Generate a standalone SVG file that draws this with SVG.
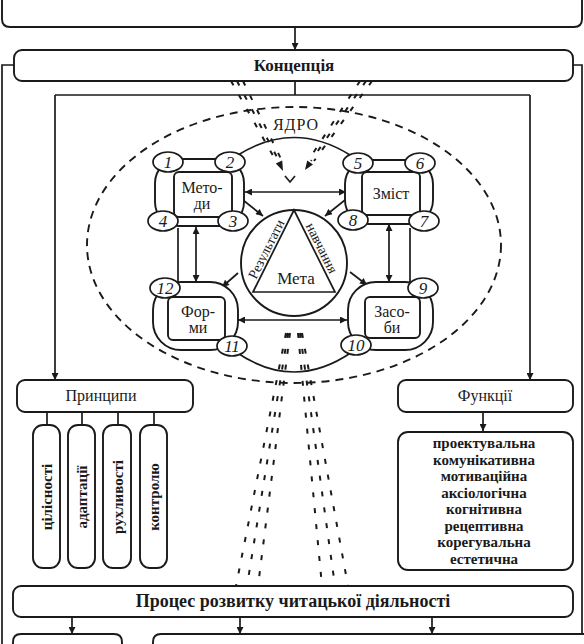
<svg xmlns="http://www.w3.org/2000/svg" width="584" height="644" viewBox="0 0 584 644">
<defs>
<marker id="ah" viewBox="0 0 10 10" refX="10" refY="5" markerWidth="8" markerHeight="7" markerUnits="userSpaceOnUse" orient="auto-start-reverse">
<path d="M0,0 L10,5 L0,10 z" fill="#1a1a1a"/>
</marker>
</defs>
<style>
.ln{fill:none;stroke:#1a1a1a;stroke-width:1.7}
.box{fill:#fff;stroke:#1a1a1a;stroke-width:1.9}
.t{font-family:"Liberation Serif",serif;fill:#1a1a1a;text-anchor:middle}
.b{font-weight:bold}
.num{font-family:"Liberation Serif",serif;font-style:italic;font-size:17px;text-anchor:middle;fill:#1a1a1a}
.el{fill:#fff;stroke:#1a1a1a;stroke-width:1.7}
.dash{fill:none;stroke:#1a1a1a;stroke-width:1.9;stroke-dasharray:8 6}
.bd{fill:none;stroke:#1a1a1a;stroke-width:2;stroke-dasharray:5 11}
.ahd{fill:#1a1a1a}
</style>
<rect width="584" height="644" fill="#fff"/>

<g id="top-box">
<path class="box" d="M2,-2 L2,19 Q2,27 10,27 L574,27 Q582,27 582,19 L582,-2"/>
</g>

<g id="dashed-zone">
<ellipse class="dash" cx="294" cy="245" rx="207" ry="138"/>
</g>

<g id="connectors">
<path class="ln" d="M295,27 L295,50" marker-end="url(#ah)"/>
<path class="ln" d="M295,81 L295,95 M55,95 L530,95"/>
<path class="ln" d="M55,95 L55,380" marker-end="url(#ah)"/>
<path class="ln" d="M530,95 L530,380" marker-end="url(#ah)"/>
<path class="ln" d="M14,65 L2,65 L2,644 M573,65 L582,65 L582,644"/>
<path class="ln" d="M47,412 L47,425 M82,412 L82,425 M118,412 L118,425 M154,412 L154,425"/>
<path class="ln" d="M483,412 L483,431" marker-end="url(#ah)"/>
<path class="ln" d="M72,617 L72,634" marker-end="url(#ah)"/>
<path class="ln" d="M240,617 L240,634" marker-end="url(#ah)"/>
<path class="ln" d="M432,617 L432,634" marker-end="url(#ah)"/>
<path class="ln" d="M238,155 Q294,120 350,155"/>
<path class="ln" d="M178,228 L178,282"/>
<path class="ln" d="M410,228 L410,282"/>
<path class="ln" d="M236,352 Q294,392 352,352"/>
<path class="ln" d="M245,192 L346,192" marker-start="url(#ah)" marker-end="url(#ah)"/>
<path class="ln" d="M238,320 L347,320" marker-start="url(#ah)" marker-end="url(#ah)"/>
<path class="ln" d="M196,227 L196,282" marker-start="url(#ah)" marker-end="url(#ah)"/>
<path class="ln" d="M389,224 L389,282" marker-start="url(#ah)" marker-end="url(#ah)"/>
<path class="ln" d="M243,200 L263,216" marker-end="url(#ah)"/>
<path class="ln" d="M345,200 L325,216" marker-end="url(#ah)"/>
<path class="ln" d="M238,273 L222,287" marker-end="url(#ah)"/>
<path class="ln" d="M350,272 L367,285" marker-end="url(#ah)"/>
<path class="bd" d="M231,81 L276,161 M237,81 L279,161 M243,81 L282,161"/>
<polygon class="ahd" points="283,171 282.2,160.4 275.8,163.6"/>
<path class="bd" d="M360,81 L308,161 M366,81 L311,161 M372,81 L314,161"/>
<polygon class="ahd" points="305,170 313,164.6 307.2,160.6"/>
<path class="ln" d="M285,176 L290,182 L295,176"/>
<path class="bd" d="M286,333 L236,586 M288,333 L247,586 M290,333 L258,586"/>
<path class="bd" d="M298,333 L322,586 M300,333 L335,586 M302,333 L348,586"/>
</g>

<g id="koncepcia">
<rect class="box" x="14" y="50" width="559" height="31" rx="8"/>
<text class="t b" x="294" y="71" font-size="17">Концепція</text>
</g>

<g id="metodu">
<rect class="box" x="155" y="159" width="89" height="67" rx="24"/>
<rect class="box" x="174" y="172" width="58" height="45" rx="5"/>
<text class="t" x="202" y="193" font-size="16">Мето-</text>
<text class="t" x="202" y="209" font-size="16">ди</text>
<ellipse class="el" cx="168" cy="162" rx="15" ry="10"/><text class="num" x="168" y="168">1</text>
<ellipse class="el" cx="230" cy="162" rx="15" ry="10"/><text class="num" x="230" y="168">2</text>
<ellipse class="el" cx="233" cy="221" rx="15" ry="10"/><text class="num" x="233" y="227">3</text>
<ellipse class="el" cx="163" cy="221" rx="15" ry="10"/><text class="num" x="163" y="227">4</text>
</g>

<g id="zmist">
<rect class="box" x="345" y="160" width="88" height="64" rx="24"/>
<rect class="box" x="362" y="172" width="58" height="43" rx="5"/>
<text class="t" x="391" y="199" font-size="16">Зміст</text>
<ellipse class="el" cx="358" cy="163" rx="15" ry="10"/><text class="num" x="358" y="169">5</text>
<ellipse class="el" cx="420" cy="163" rx="15" ry="10"/><text class="num" x="420" y="169">6</text>
<ellipse class="el" cx="424" cy="221" rx="15" ry="10"/><text class="num" x="424" y="227">7</text>
<ellipse class="el" cx="353" cy="220" rx="15" ry="10"/><text class="num" x="353" y="226">8</text>
</g>

<g id="formu">
<rect class="box" x="153" y="282" width="85" height="68" rx="28"/>
<rect class="box" x="168" y="297" width="57" height="43" rx="5"/>
<text class="t" x="198" y="317" font-size="16">Фор-</text>
<text class="t" x="198" y="333" font-size="16">ми</text>
<ellipse class="el" cx="165" cy="288" rx="15" ry="10"/><text class="num" x="165" y="294">12</text>
<ellipse class="el" cx="232" cy="346" rx="15" ry="10"/><text class="num" x="232" y="352">11</text>
</g>

<g id="zasobu">
<rect class="box" x="348" y="282" width="85" height="68" rx="28"/>
<rect class="box" x="365" y="297" width="55" height="41" rx="5"/>
<text class="t" x="392" y="317" font-size="16">Засо-</text>
<text class="t" x="392" y="333" font-size="16">би</text>
<ellipse class="el" cx="423" cy="288" rx="15" ry="10"/><text class="num" x="423" y="294">9</text>
<ellipse class="el" cx="356" cy="345" rx="15" ry="10"/><text class="num" x="356" y="351">10</text>
</g>

<g id="yadro">
<text class="t" x="296" y="130" font-size="16" letter-spacing="1">ЯДРО</text>
</g>

<g id="meta">
<circle cx="294" cy="263" r="53" fill="#fff" stroke="#1a1a1a" stroke-width="1.9"/>
<polygon points="294,210 253,292 335,292" fill="none" stroke="#1a1a1a" stroke-width="1.7"/>
<text class="t" x="296" y="284" font-size="17">Мета</text>
<text class="t" font-size="14" transform="translate(266,249) rotate(-63.4)" dy="0.35em">Результати</text>
<text class="t" font-size="14" transform="translate(322,248) rotate(63.4)" dy="0.35em">навчання</text>
</g>

<g id="pryncypy">
<rect class="box" x="17" y="380" width="176" height="32" rx="8"/>
<text class="t" x="101" y="401" font-size="16">Принципи</text>
</g>
<g id="p1"><rect class="box" x="33" y="425" width="27" height="143" rx="10"/><text class="t b" font-size="15" transform="translate(47,497) rotate(-90)" dy="0.35em">цілісності</text></g>
<g id="p2"><rect class="box" x="68" y="425" width="27" height="143" rx="10"/><text class="t b" font-size="15" transform="translate(82,497) rotate(-90)" dy="0.35em">адаптації</text></g>
<g id="p3"><rect class="box" x="103" y="425" width="28" height="143" rx="10"/><text class="t b" font-size="15" transform="translate(118,497) rotate(-90)" dy="0.35em">рухливості</text></g>
<g id="p4"><rect class="box" x="140" y="425" width="27" height="143" rx="10"/><text class="t b" font-size="15" transform="translate(154,497) rotate(-90)" dy="0.35em">контролю</text></g>

<g id="funkcii">
<rect class="box" x="398" y="380" width="175" height="32" rx="8"/>
<text class="t" x="485" y="401" font-size="16">Функції</text>
</g>
<g id="funkcii-list">
<rect class="box" x="398" y="432" width="175" height="138" rx="10"/>
<text class="t b" font-size="15" x="484"><tspan x="484" y="448">проектувальна</tspan><tspan x="484" y="464.5">комунікативна</tspan><tspan x="484" y="481">мотиваційна</tspan><tspan x="484" y="497.5">аксіологічна</tspan><tspan x="484" y="514">когнітивна</tspan><tspan x="484" y="530.5">рецептивна</tspan><tspan x="484" y="547">корегувальна</tspan><tspan x="484" y="563.5">естетична</tspan></text>
</g>

<g id="proces">
<rect class="box" x="13" y="586" width="560" height="31" rx="8"/>
<text class="t b" x="293" y="607" font-size="18">Процес розвитку читацької діяльності</text>
</g>

<g id="bottom-boxes">
<path class="box" d="M13,652 L13,642 Q13,634 21,634 L114,634 Q122,634 122,642 L122,652"/>
<path class="box" d="M153,652 L153,642 Q153,634 161,634 L590,634 L590,652"/>
</g>
</svg>
